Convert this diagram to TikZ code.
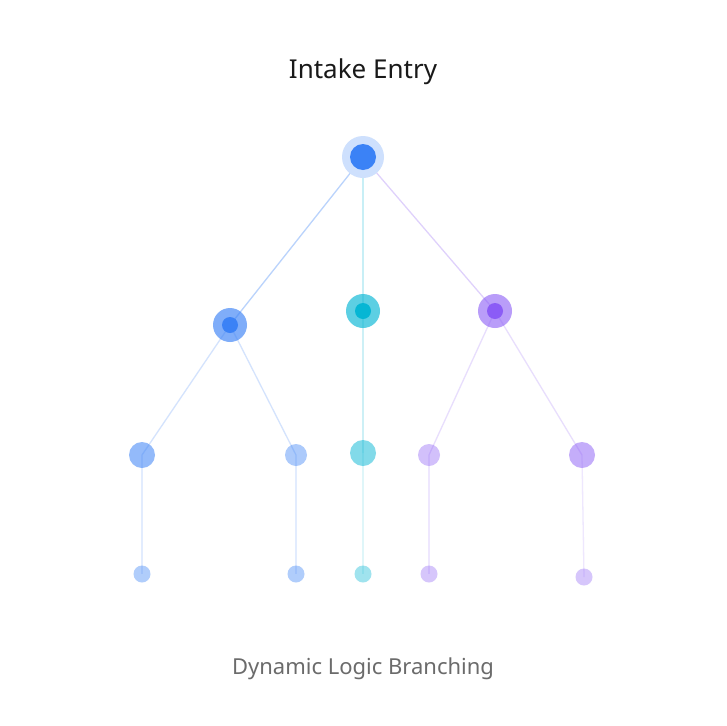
\documentclass[tikz,border=0pt]{standalone}
\usepackage{fontspec}
\setmainfont{Noto Sans}
\definecolor{cblue}{HTML}{3B82F6}
\definecolor{ccyan}{HTML}{06B6D4}
\definecolor{cpurp}{HTML}{8B5CF6}
\definecolor{tgray}{HTML}{6B6B6B}
\tikzset{
  halo/.style={circle, inner sep=0pt, minimum size=#1},
  core/.style={circle, inner sep=0pt, minimum size=#1},
  edge/.style={line width=1.3pt},
}
\begin{document}
\begin{tikzpicture}[x=1pt,y=-1pt]
\useasboundingbox[fill=white] (0,0) rectangle (726,726);
% nodes positions
\coordinate (r) at (363,157);
\coordinate (a) at (230,325);
\coordinate (b) at (363,311);
\coordinate (c) at (495,311);
\coordinate (a1) at (142,455);
\coordinate (a2) at (296,455);
\coordinate (b1) at (363,453);
\coordinate (c1) at (429,455);
\coordinate (c2) at (582,455);
\coordinate (a1l) at (142,574);
\coordinate (a2l) at (296,574);
\coordinate (b1l) at (363,574);
\coordinate (c1l) at (429,574);
\coordinate (c2l) at (584,577);
% edges
\draw[edge, cblue!35] (r) -- (a);
\draw[edge, ccyan!22] (r) -- (b);
\draw[edge, cpurp!28] (r) -- (c);
\draw[edge, cblue!22] (a) -- (a1);
\draw[edge, cblue!22] (a) -- (a2);
\draw[edge, ccyan!20] (b) -- (b1);
\draw[edge, cpurp!20] (c) -- (c1);
\draw[edge, cpurp!20] (c) -- (c2);
\draw[edge, cblue!15] (a1) -- (a1l);
\draw[edge, cblue!15] (a2) -- (a2l);
\draw[edge, ccyan!13] (b1) -- (b1l);
\draw[edge, cpurp!15] (c1) -- (c1l);
\draw[edge, cpurp!15] (c2) -- (c2l);
% root
\node[halo=42pt, fill=cblue!25] (rh) at (r) {};
\node[core=26pt, fill=cblue] (rc) at (r) {};
% level 2
\node[halo=34pt, fill=cblue, opacity=0.65] (ah) at (a) {};
\node[core=16pt, fill=cblue] (ac) at (a) {};
\node[halo=34pt, fill=ccyan, opacity=0.65] (bh) at (b) {};
\node[core=16pt, fill=ccyan] (bc) at (b) {};
\node[halo=34pt, fill=cpurp, opacity=0.6] (ch) at (c) {};
\node[core=16pt, fill=cpurp] (cc) at (c) {};
% level 3
\node[halo=26pt, fill=cblue, opacity=0.55] (na1) at (a1) {};
\node[halo=22pt, fill=cblue, opacity=0.42] (na2) at (a2) {};
\node[halo=26pt, fill=ccyan, opacity=0.5] (nb1) at (b1) {};
\node[halo=22pt, fill=cpurp, opacity=0.38] (nc1) at (c1) {};
\node[halo=26pt, fill=cpurp, opacity=0.5] (nc2) at (c2) {};
% level 4
\node[halo=17pt, fill=cblue, opacity=0.4] (la1) at (a1l) {};
\node[halo=17pt, fill=cblue, opacity=0.4] (la2) at (a2l) {};
\node[halo=17pt, fill=ccyan, opacity=0.38] (lb1) at (b1l) {};
\node[halo=17pt, fill=cpurp, opacity=0.35] (lc1) at (c1l) {};
\node[halo=17pt, fill=cpurp, opacity=0.35] (lc2) at (c2l) {};
% texts
\node[font=\fontsize{26}{30}\selectfont, text=black!90] (title) at (363,72) {Intake Entry};
\node[font=\fontsize{22}{26}\selectfont, text=tgray] (sub) at (363,669) {Dynamic Logic Branching};
\end{tikzpicture}
\end{document}
